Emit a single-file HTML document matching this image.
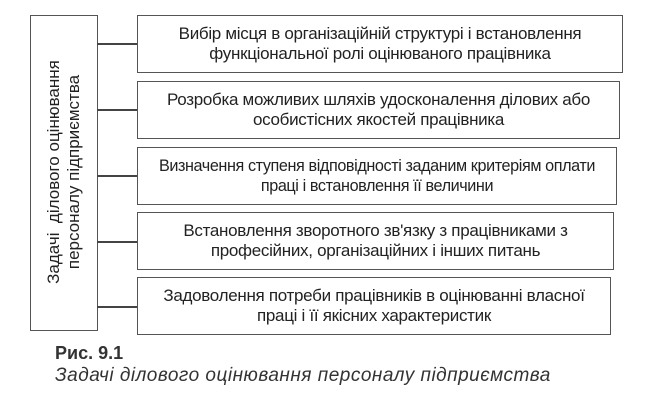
<!DOCTYPE html>
<html><head><meta charset="utf-8"><style>
body{margin:0;background:#fff;width:651px;height:405px;position:relative;overflow:hidden;font-family:"Liberation Sans","DejaVu Sans",sans-serif;color:#222}
.b{position:absolute;border:1.5px solid #555;box-sizing:border-box;background:#fff}
.r{left:137px;height:58px;display:flex;align-items:center;justify-content:center;text-align:center;font-size:17px;line-height:20px;letter-spacing:-0.3px;white-space:nowrap}
.l{position:absolute;height:1.5px;background:#444;left:97px;width:40px}
</style></head><body>
<div class="b" style="left:30px;top:15px;width:68px;height:316px"></div>
<div style="position:absolute;left:64px;top:172px;width:300px;transform:translate(-50%,-50%) rotate(-90deg);text-align:center;font-size:17px;line-height:20px;white-space:nowrap">Задачі&nbsp; ділового оцінювання<br>персоналу підприємства</div>
<div class="l" style="top:43px"></div><div class="l" style="top:109px"></div><div class="l" style="top:175px"></div><div class="l" style="top:241px"></div><div class="l" style="top:306px"></div>
<div class="b r" style="top:15px;width:486px">Вибір місця в організаційній структурі і встановлення<br>функціональної ролі оцінюваного працівника</div>
<div class="b r" style="top:81px;width:483px">Розробка можливих шляхів удосконалення ділових або<br>особистісних якостей працівника</div>
<div class="b r" style="top:147px;width:480px;font-size:16.2px;letter-spacing:-0.4px">Визначення ступеня відповідності заданим критеріям оплати<br>праці і встановлення її величини</div>
<div class="b r" style="top:212px;width:477px">Встановлення зворотного зв'язку з працівниками з<br>професійних, організаційних і інших питань</div>
<div class="b r" style="top:277px;width:474px">Задоволення потреби працівників в оцінюванні власної<br>праці і її якісних характеристик</div>
<div style="position:absolute;left:55px;top:343px;font-size:18px;font-weight:bold;color:#333">Рис. 9.1</div>
<div style="position:absolute;left:55px;top:365px;font-size:19px;letter-spacing:0.5px;font-style:italic;color:#333;white-space:nowrap">Задачі ділового оцінювання персоналу підприємства</div>
</body></html>
